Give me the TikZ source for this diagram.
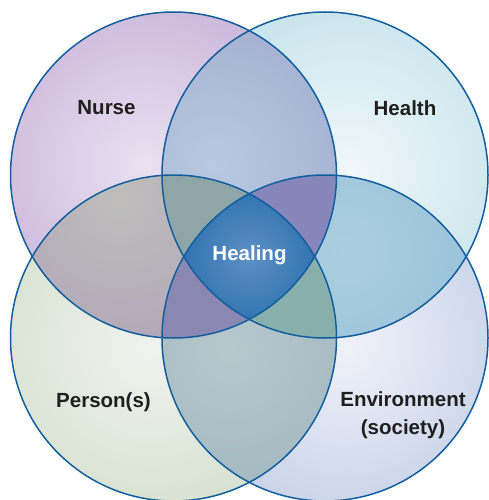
\documentclass[tikz,border=0pt]{standalone}
\usepackage{fontspec}
\setmainfont{Liberation Sans}
\definecolor{rim}{HTML}{125E9E}
\definecolor{nOut}{HTML}{B9A0CE}\definecolor{nIn}{HTML}{EAE1F1}
\definecolor{hOut}{HTML}{B3D9E5}\definecolor{hIn}{HTML}{F0F8FA}
\definecolor{pOut}{HTML}{C8D7BF}\definecolor{pIn}{HTML}{F0F3EE}
\definecolor{eOut}{HTML}{B2C2DF}\definecolor{eIn}{HTML}{F0F2F9}
\definecolor{nhOut}{HTML}{9A9CC7}\definecolor{nhIn}{HTML}{B6CAE0}
\definecolor{npOut}{HTML}{AA96B6}\definecolor{npIn}{HTML}{BEBEBC}
\definecolor{heOut}{HTML}{8AB5D2}\definecolor{heIn}{HTML}{AACFE0}
\definecolor{peOut}{HTML}{96ACB9}\definecolor{peIn}{HTML}{B6C8CC}
\definecolor{nhp}{HTML}{8FA6A8}
\definecolor{nhe}{HTML}{8686BA}
\definecolor{npe}{HTML}{8A88B2}
\definecolor{hpe}{HTML}{87B0AC}
\definecolor{qOut}{HTML}{0A5A9A}\definecolor{qIn}{HTML}{5E90C6}
\tikzset{
  ring/.style={draw=rim, line width=1.5pt},
  lbl/.style={font=\fontsize{20.5}{28}\selectfont\bfseries, text=black!88, align=center},
  lblw/.style={font=\fontsize{20.5}{23}\selectfont\bfseries, text=white}
}
\newcommand{\rr}{163pt}
\begin{document}
\begin{tikzpicture}[x=1pt,y=-1pt]
\useasboundingbox (0,0) rectangle (488,500);
\coordinate (cN) at (173.5,175);
\coordinate (cH) at (325,175);
\coordinate (cP) at (173.5,338);
\coordinate (cE) at (325,338);
\coordinate (cM) at (249.25,256.5);
% single circles
\begin{scope}\clip (cN) circle[radius=\rr];
\shade[inner color=nIn, outer color=nOut] (145,165) circle[radius=270pt];\end{scope}
\begin{scope}\clip (cH) circle[radius=\rr];
\shade[inner color=hIn, outer color=hOut] (350,170) circle[radius=270pt];\end{scope}
\begin{scope}\clip (cP) circle[radius=\rr];
\shade[inner color=pIn, outer color=pOut] (150,345) circle[radius=270pt];\end{scope}
\begin{scope}\clip (cE) circle[radius=\rr];
\shade[inner color=eIn, outer color=eOut] (345,345) circle[radius=270pt];\end{scope}
% pairs
\begin{scope}\clip (cN) circle[radius=\rr];\clip (cH) circle[radius=\rr];
\shade[inner color=nhIn, outer color=nhOut] (215,165) circle[radius=260pt];\end{scope}
\begin{scope}\clip (cN) circle[radius=\rr];\clip (cP) circle[radius=\rr];
\shade[inner color=npIn, outer color=npOut] (120,200) circle[radius=260pt];\end{scope}
\begin{scope}\clip (cH) circle[radius=\rr];\clip (cE) circle[radius=\rr];
\shade[inner color=heIn, outer color=heOut] (345,250) circle[radius=260pt];\end{scope}
\begin{scope}\clip (cP) circle[radius=\rr];\clip (cE) circle[radius=\rr];
\shade[inner color=peIn, outer color=peOut] (230,350) circle[radius=260pt];\end{scope}
% triples
\begin{scope}\clip (cN) circle[radius=\rr];\clip (cH) circle[radius=\rr];\clip (cP) circle[radius=\rr];
\fill[nhp] (0,0) rectangle (488,500);\end{scope}
\begin{scope}\clip (cN) circle[radius=\rr];\clip (cH) circle[radius=\rr];\clip (cE) circle[radius=\rr];
\fill[nhe] (0,0) rectangle (488,500);\end{scope}
\begin{scope}\clip (cN) circle[radius=\rr];\clip (cP) circle[radius=\rr];\clip (cE) circle[radius=\rr];
\fill[npe] (0,0) rectangle (488,500);\end{scope}
\begin{scope}\clip (cH) circle[radius=\rr];\clip (cP) circle[radius=\rr];\clip (cE) circle[radius=\rr];
\fill[hpe] (0,0) rectangle (488,500);\end{scope}
% quadruple
\begin{scope}\clip (cN) circle[radius=\rr];\clip (cH) circle[radius=\rr];\clip (cP) circle[radius=\rr];\clip (cE) circle[radius=\rr];
\shade[inner color=qIn, outer color=qOut] (cM) circle[radius=125pt];\end{scope}
% outlines
\draw[ring] (cN) circle[radius=\rr];
\draw[ring] (cH) circle[radius=\rr];
\draw[ring] (cP) circle[radius=\rr];
\draw[ring] (cE) circle[radius=\rr];
% labels
\node[lbl] (nurse) at (106.5,108) {Nurse};
\node[lbl] (health) at (405,108) {Health};
\node[lbl] (person) at (103.5,402) {Person(s)};
\node[lbl] (env) at (403,415) {Environment\\(society)};
\node[lblw] (heal) at (249.5,255) {Healing};
\end{tikzpicture}
\end{document}
